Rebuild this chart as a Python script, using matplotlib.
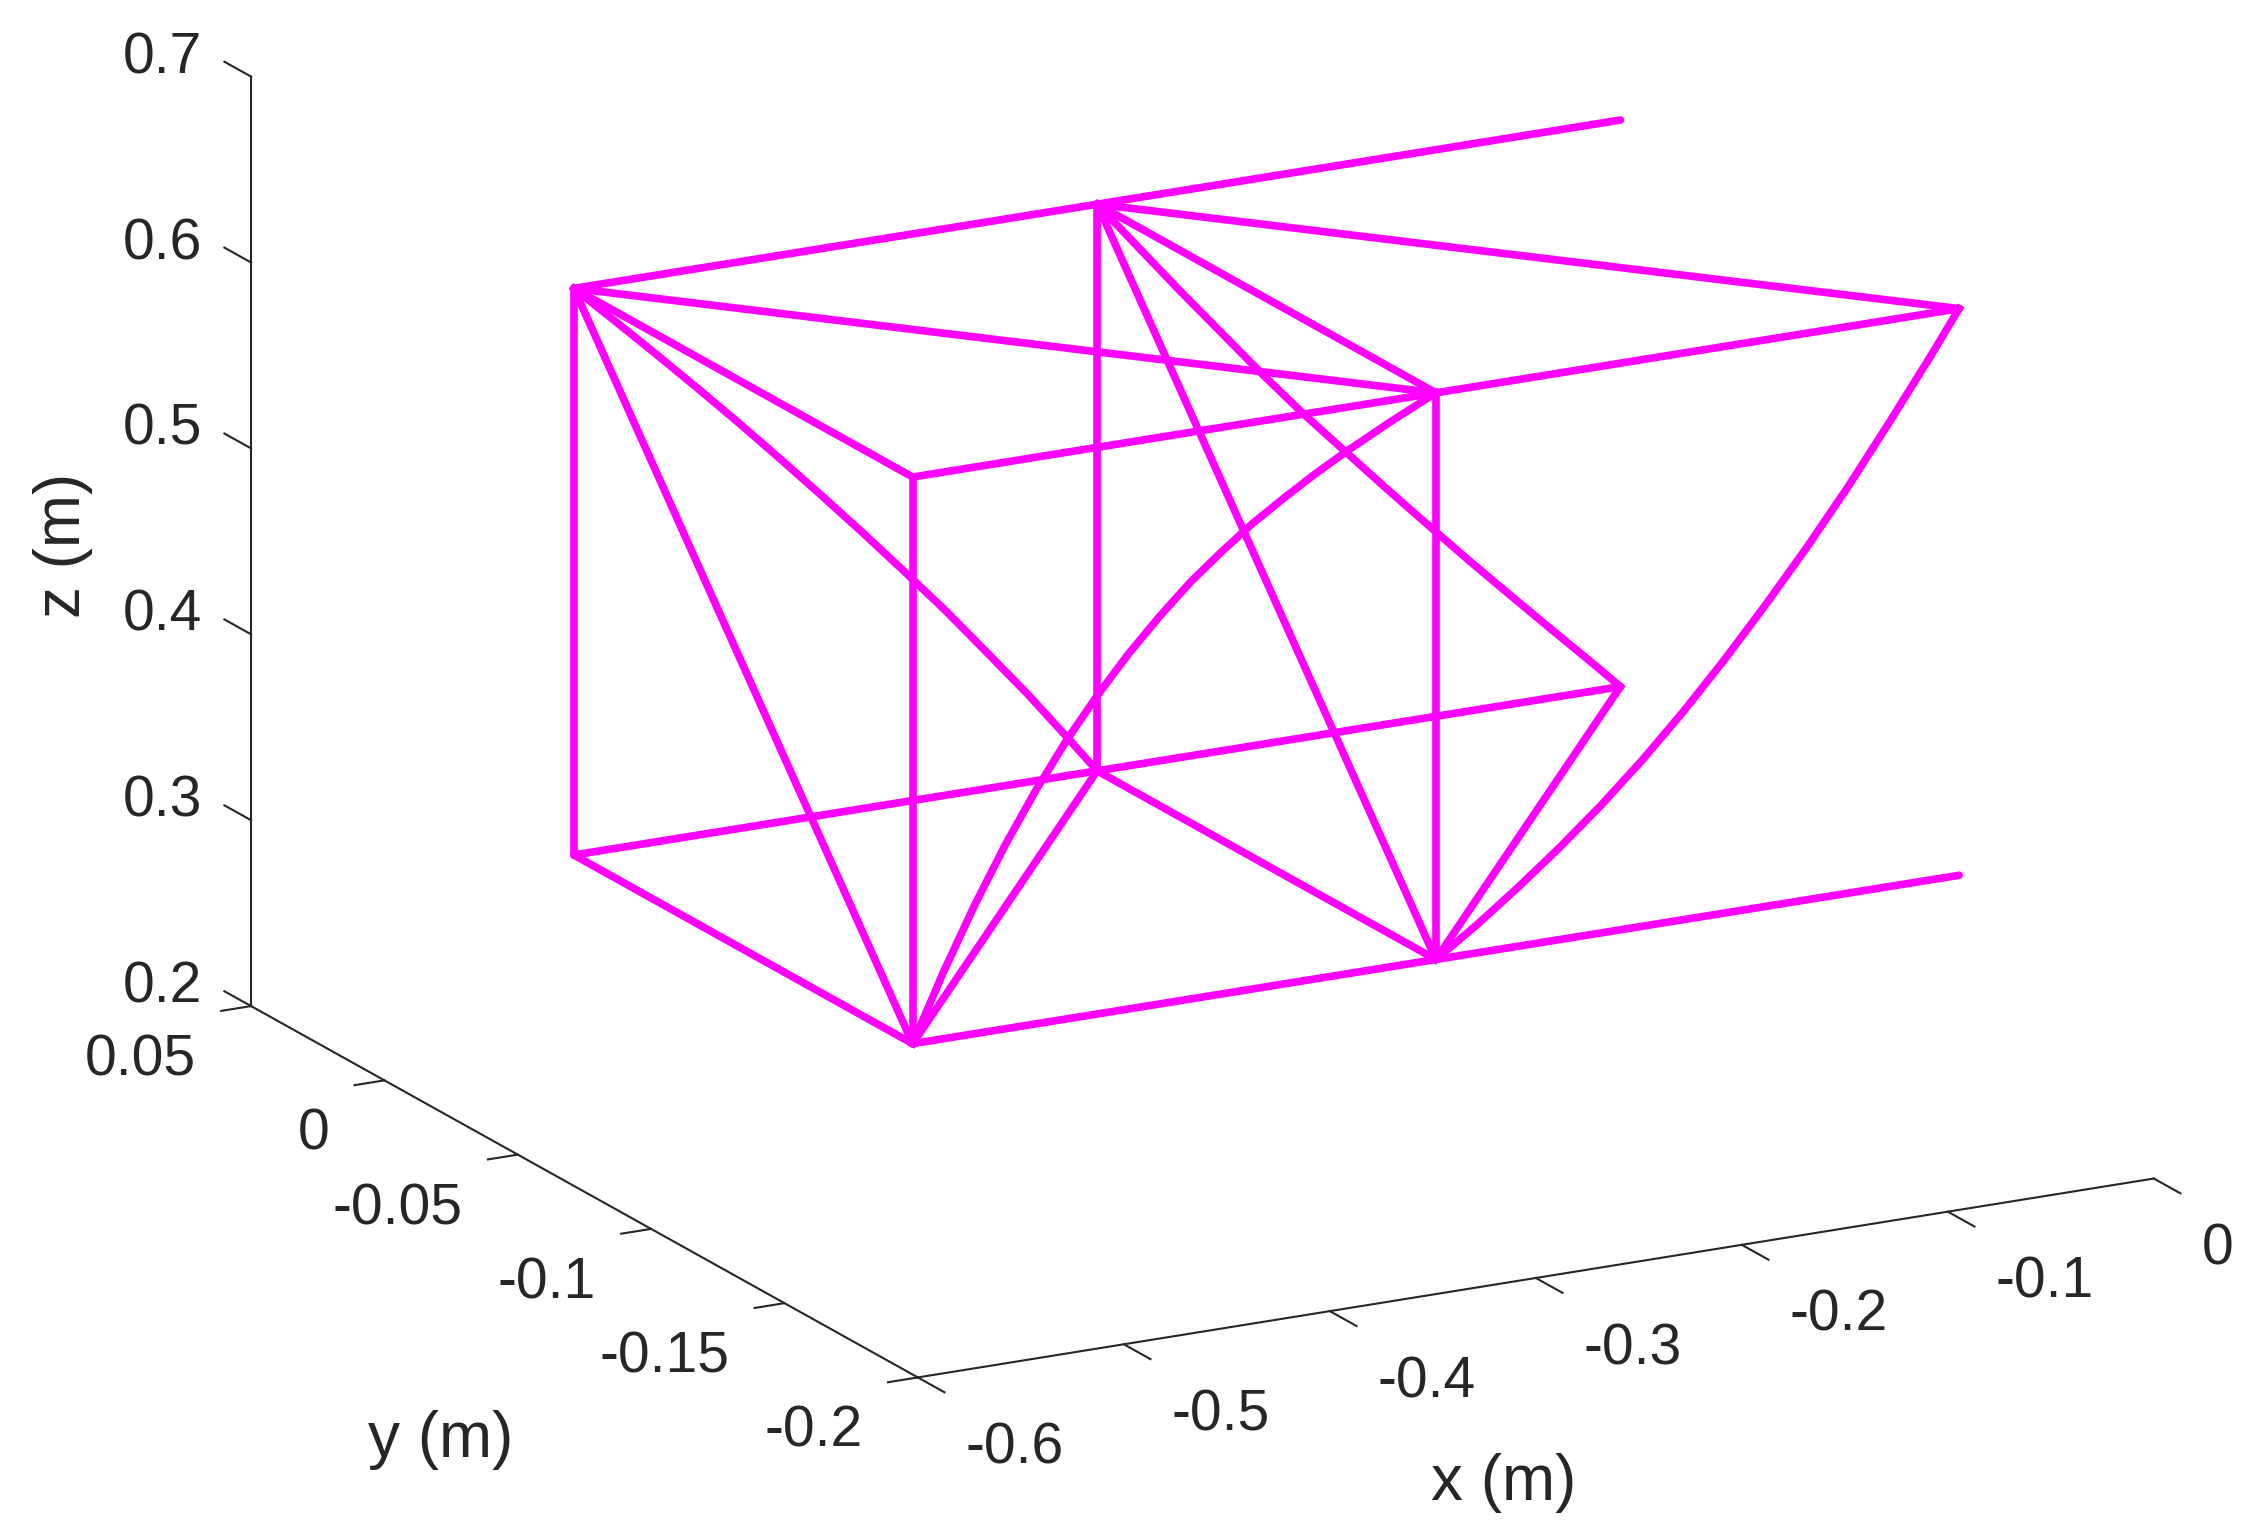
import numpy as np
import matplotlib
matplotlib.use("Agg")
import matplotlib.pyplot as plt
from mpl_toolkits.mplot3d import proj3d

plt.rcParams['font.family'] = ['Liberation Sans', 'DejaVu Sans']

# truss nodes (m), 3 bays along x, back plane y=0, front plane y=-0.127
# A B C top back, D E F top front, G H I bottom front, J K L bottom back
node_x = [-0.508, -0.254, 0.0, -0.508, -0.254, 0.0, -0.508, -0.254, 0.0, -0.508, -0.254, 0.0]
node_y = [0.0, 0.0, 0.0, -0.127, -0.127, -0.127, -0.127, -0.127, -0.127, 0.0, 0.0, 0.0]
node_z = [0.6096, 0.6096, 0.6096, 0.6096, 0.6096, 0.6096, 0.3048, 0.3048, 0.3048, 0.3048, 0.3048, 0.3048]

A, B, C, D, E, F, G, H, I, J, K, L = range(12)
members = [(A, B), (B, C), (D, E), (E, F), (G, H), (H, I), (J, K), (K, L),
           (A, J), (B, K), (D, G), (E, H),
           (A, D), (B, E), (A, E), (B, F),
           (J, G), (K, H), (G, K), (H, L),
           (A, G), (B, H)]

# curved members
ak_x = [-0.508, -0.488, -0.468, -0.448, -0.428, -0.408, -0.388, -0.368, -0.348, -0.328, -0.308, -0.288, -0.268, -0.254]
ak_z = [0.6096, 0.5884, 0.567, 0.5452, 0.523, 0.5002, 0.477, 0.4534, 0.4292, 0.4046, 0.3786, 0.3524, 0.3246, 0.3048]
bl_x = [-0.254, -0.234, -0.214, -0.194, -0.174, -0.154, -0.134, -0.114, -0.094, -0.074, -0.054, -0.034, -0.014, 0.0]
bl_z = [0.6096, 0.5828, 0.5561, 0.5301, 0.5041, 0.4791, 0.4556, 0.4321, 0.4091, 0.3863, 0.3641, 0.3421, 0.3203, 0.3048]
ge_x = [-0.508, -0.493, -0.478, -0.463, -0.448, -0.433, -0.418, -0.403, -0.388, -0.373, -0.358, -0.343, -0.328, -0.313, -0.298, -0.276, -0.254]
ge_z = [0.3048, 0.3408, 0.3738, 0.4038, 0.4308, 0.4551, 0.4766, 0.4961, 0.5134, 0.5292, 0.5427, 0.5552, 0.566, 0.5762, 0.5855, 0.598, 0.6096]
hf_x = [-0.254, -0.234, -0.214, -0.194, -0.174, -0.154, -0.134, -0.114, -0.094, -0.074, -0.054, -0.034, -0.014, 0.0]
hf_z = [0.3048, 0.32, 0.3366, 0.3543, 0.3733, 0.394, 0.4166, 0.441, 0.467, 0.4943, 0.5233, 0.5543, 0.5863, 0.6096]

x_ticks = [-0.6, -0.5, -0.4, -0.3, -0.2, -0.1, 0]
y_ticks = [-0.2, -0.15, -0.1, -0.05, 0, 0.05]
z_ticks = [0.2, 0.3, 0.4, 0.5, 0.6, 0.7]
x_labels = ['-0.6', '-0.5', '-0.4', '-0.3', '-0.2', '-0.1', '0']
y_labels = ['-0.2', '-0.15', '-0.1', '-0.05', '0', '0.05']
z_labels = ['0.2', '0.3', '0.4', '0.5', '0.6', '0.7']

xmin, xmax = -0.6, 0
ymin, ymax = -0.2, 0.05
zmin, zmax = 0.2, 0.7

W, H_px = 2260, 1536
side = 2149.2
fig = plt.figure(figsize=(W / 100, H_px / 100), dpi=100, facecolor='white')
ax = fig.add_axes([98.8 / W, -195.2 / H_px, side / W, side / H_px], projection='3d')
ax.set_proj_type('ortho')
ax.view_init(elev=17.42, azim=241.74)
ax.set_box_aspect((1403, 1408, 974))
ax.set_axis_off()

magenta = '#ff00ff'
dark = '#262626'
lw = 5.5

for a, b in members:
    ax.plot([node_x[a], node_x[b]], [node_y[a], node_y[b]], [node_z[a], node_z[b]],
            color=magenta, lw=lw, solid_capstyle='round')

ax.plot(ak_x, [0.0] * len(ak_x), ak_z, color=magenta, lw=lw)
ax.plot(bl_x, [0.0] * len(bl_x), bl_z, color=magenta, lw=lw)
ax.plot(ge_x, [-0.127] * len(ge_x), ge_z, color=magenta, lw=lw)
ax.plot(hf_x, [-0.127] * len(hf_x), hf_z, color=magenta, lw=lw)

ax.set_xlim(xmin, xmax)
ax.set_ylim(ymin, ymax)
ax.set_zlim(zmin, zmax)


def label3d(x, y, z, s, ha):
    # plain 2d text at the projected point, so its position is a real one
    px, py, _ = proj3d.proj_transform(x, y, z, ax.get_proj())
    ax.text2D(px, py, s, color=dark, fontsize=41, ha=ha, va='center')


# axis lines and ticks, matlab style
axis_lw = 1.5
ax.plot([xmin, xmax], [ymin, ymin], [zmin, zmin], color=dark, lw=axis_lw)
ax.plot([xmin, xmin], [ymin, ymax], [zmin, zmin], color=dark, lw=axis_lw)
ax.plot([xmin, xmin], [ymax, ymax], [zmin, zmax], color=dark, lw=axis_lw)

for t, s in zip(x_ticks, x_labels):
    ax.plot([t, t], [ymin, ymin - 0.01], [zmin, zmin], color=dark, lw=axis_lw)
    label3d(t, ymin - 0.018, zmin - 0.0239, s, 'left')
for t, s in zip(y_ticks, y_labels):
    ax.plot([xmin, xmin - 0.0145], [t, t], [zmin, zmin], color=dark, lw=axis_lw)
    label3d(xmin - 0.0267, t, zmin - 0.0245, s, 'right')
for t, s in zip(z_ticks, z_labels):
    ax.plot([xmin, xmin], [ymax, ymax + 0.01], [t, t], color=dark, lw=axis_lw)
    label3d(xmin, ymax + 0.0184, t - 0.0048, s, 'right')

ax.set_xlim(xmin, xmax)
ax.set_ylim(ymin, ymax)
ax.set_zlim(zmin, zmax)

fig.text(1504 / W, 1 - 1483 / H_px, 'x (m)', color=dark, fontsize=46, ha='center', va='center')
fig.text(441 / W, 1 - 1440 / H_px, 'y (m)', color=dark, fontsize=46, ha='center', va='center')
fig.text(63 / W, 1 - 545 / H_px, 'z (m)', color=dark, fontsize=46, ha='center', va='center', rotation=90)

fig.savefig('out.png', dpi=100)
